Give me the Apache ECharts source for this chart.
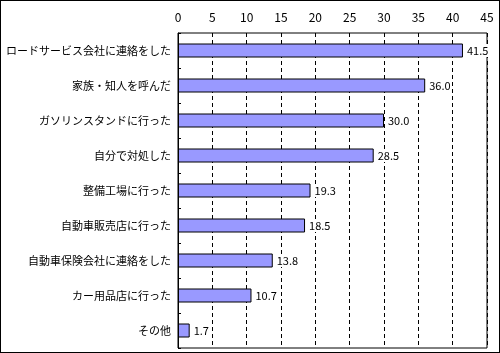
<!DOCTYPE html>
<html><head><meta charset="utf-8">
<script src="https://cdn.jsdelivr.net/npm/echarts@6/dist/echarts.min.js"></script>
<style>
html,body{margin:0;padding:0;background:#fff;}
#c{width:500px;height:353px;box-sizing:border-box;border:1px solid #000;}
</style></head><body>
<div id="c"></div>
<script>
const categories = ['ロードサービス会社に連絡をした','家族・知人を呼んだ','ガソリンスタンドに行った','自分で対処した','整備工場に行った','自動車販売店に行った','自動車保険会社に連絡をした','カー用品店に行った','その他'];
const values = [41.5, 36.0, 30.0, 28.5, 19.3, 18.5, 13.8, 10.7, 1.7];
const font = '"Noto Sans CJK JP", sans-serif';
const chart = echarts.init(document.getElementById('c'));
chart.setOption({
  animation:false,
  grid:{left:177,right:12,top:32,bottom:4,show:true,borderColor:'#000',borderWidth:1,backgroundColor:'transparent'},
  xAxis:{type:'value',position:'top',min:0,max:45,interval:5,
    axisLine:{show:false},axisTick:{show:false},
    axisLabel:{color:'#000',fontSize:12,fontFamily:font,margin:10},
    splitLine:{show:true,lineStyle:{color:'#000',type:[4,3],width:1}}},
  yAxis:{type:'category',data:categories,inverse:true,
    axisLine:{show:true,lineStyle:{color:'#000'}},
    axisTick:{show:true,inside:true,length:3,lineStyle:{color:'#000'}},
    axisLabel:{color:'#000',fontSize:11,fontFamily:font,margin:7}},
  series:[{type:'bar',data:values,barWidth:14,
    itemStyle:{color:'#9999FF',borderColor:'#000',borderWidth:1},
    label:{show:true,position:'right',distance:3,color:'#000',fontSize:11,fontFamily:font,
      backgroundColor:'#fff',padding:[1,1],
      formatter:p=>p.value.toFixed(1)}}]
});
</script></body></html>
